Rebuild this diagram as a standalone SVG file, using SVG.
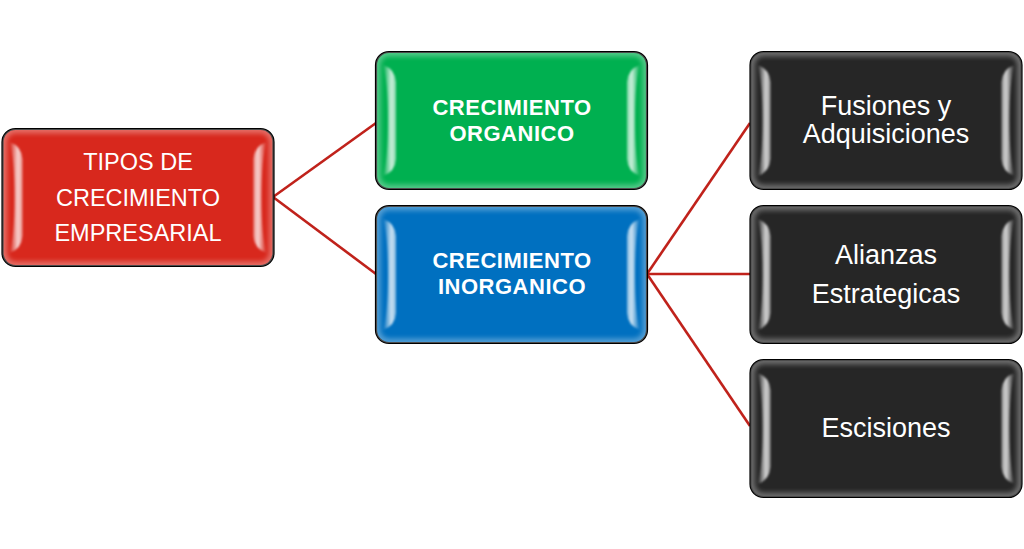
<svg xmlns="http://www.w3.org/2000/svg" width="1024" height="549" viewBox="0 0 1024 549">
<style>
.bg{fill:#ffffff}
.body{stroke:#000;stroke-width:2.2}
.red .body{fill:#d8281d}
.green .body{fill:#00b050}
.blue .body{fill:#0070c0}
.dark .body{fill:#262626}
.glow{fill:none;stroke:#fff;stroke-width:9;opacity:0.32}
.hl{fill:url(#hlg)}
.conn line{stroke:#c0221b;stroke-width:2.6;fill:none}
text{fill:#fff;font-family:"Liberation Sans",Arial,sans-serif;text-anchor:middle}
.t1{font-size:23.5px}
.t2{font-size:22px;font-weight:bold;letter-spacing:0.5px}
.t3{font-size:27px}
</style>
<defs>
<clipPath id="clip"><rect width="271" height="137" rx="13"/></clipPath>
<filter id="blur" x="-10%" y="-10%" width="120%" height="120%"><feGaussianBlur stdDeviation="2.5"/></filter>
<filter id="soft" x="-50%" y="-10%" width="200%" height="120%"><feGaussianBlur stdDeviation="0.8"/></filter>
<linearGradient id="hlg" x1="0" y1="0" x2="1" y2="0">
<stop offset="0" stop-color="#fff" stop-opacity="0"/>
<stop offset="0.65" stop-color="#fff" stop-opacity="0.8"/>
<stop offset="1" stop-color="#fff" stop-opacity="0.5"/>
</linearGradient>
<path id="hlp" d="M7,13 Q19,17 20,30 L20,107 Q19,120 7,124 Q12,108 12,68.5 Q12,29 7,13 Z"/>
</defs>
<rect class="bg" width="1024" height="549"/>
<g id="connectors" class="conn">
<line x1="273" y1="197" x2="376" y2="123"/>
<line x1="273" y1="197" x2="376" y2="274"/>
<line x1="647" y1="274" x2="750" y2="123"/>
<line x1="647" y1="274" x2="750" y2="274"/>
<line x1="647" y1="274" x2="750" y2="426"/>
</g>
<g id="n-tipos" class="node red" transform="translate(2.5,129)">
<rect class="body" width="271" height="137" rx="13"/>
<g clip-path="url(#clip)"><rect class="glow" width="271" height="137" rx="13" filter="url(#blur)"/></g>
<use href="#hlp" class="hl" filter="url(#soft)"/>
<use href="#hlp" class="hl" filter="url(#soft)" transform="translate(271,0) scale(-1,1)"/>
<text class="t1" x="135.5" y="41">TIPOS DE</text>
<text class="t1" x="135.5" y="77">CRECIMIENTO</text>
<text class="t1" x="135.5" y="112">EMPRESARIAL</text>
</g>
<g id="n-organico" class="node green" transform="translate(376,52)">
<rect class="body" width="271" height="137" rx="13"/>
<g clip-path="url(#clip)"><rect class="glow" width="271" height="137" rx="13" filter="url(#blur)"/></g>
<use href="#hlp" class="hl" filter="url(#soft)"/>
<use href="#hlp" class="hl" filter="url(#soft)" transform="translate(271,0) scale(-1,1)"/>
<text class="t2" x="136" y="63">CRECIMIENTO</text>
<text class="t2" x="136" y="89">ORGANICO</text>
</g>
<g id="n-inorganico" class="node blue" transform="translate(376,206)">
<rect class="body" width="271" height="137" rx="13"/>
<g clip-path="url(#clip)"><rect class="glow" width="271" height="137" rx="13" filter="url(#blur)"/></g>
<use href="#hlp" class="hl" filter="url(#soft)"/>
<use href="#hlp" class="hl" filter="url(#soft)" transform="translate(271,0) scale(-1,1)"/>
<text class="t2" x="136" y="62">CRECIMIENTO</text>
<text class="t2" x="136" y="88">INORGANICO</text>
</g>
<g id="n-fusiones" class="node dark" transform="translate(750.5,52)">
<rect class="body" width="271" height="137" rx="13"/>
<g clip-path="url(#clip)"><rect class="glow" width="271" height="137" rx="13" filter="url(#blur)"/></g>
<use href="#hlp" class="hl" filter="url(#soft)"/>
<use href="#hlp" class="hl" filter="url(#soft)" transform="translate(271,0) scale(-1,1)"/>
<text class="t3" x="135.5" y="63">Fusiones y</text>
<text class="t3" x="135.5" y="91">Adquisiciones</text>
</g>
<g id="n-alianzas" class="node dark" transform="translate(750.5,206)">
<rect class="body" width="271" height="137" rx="13"/>
<g clip-path="url(#clip)"><rect class="glow" width="271" height="137" rx="13" filter="url(#blur)"/></g>
<use href="#hlp" class="hl" filter="url(#soft)"/>
<use href="#hlp" class="hl" filter="url(#soft)" transform="translate(271,0) scale(-1,1)"/>
<text class="t3" x="135.5" y="58">Alianzas</text>
<text class="t3" x="135.5" y="97">Estrategicas</text>
</g>
<g id="n-escisiones" class="node dark" transform="translate(750.5,360)">
<rect class="body" width="271" height="137" rx="13"/>
<g clip-path="url(#clip)"><rect class="glow" width="271" height="137" rx="13" filter="url(#blur)"/></g>
<use href="#hlp" class="hl" filter="url(#soft)"/>
<use href="#hlp" class="hl" filter="url(#soft)" transform="translate(271,0) scale(-1,1)"/>
<text class="t3" x="135.5" y="77">Escisiones</text>
</g>
</svg>
